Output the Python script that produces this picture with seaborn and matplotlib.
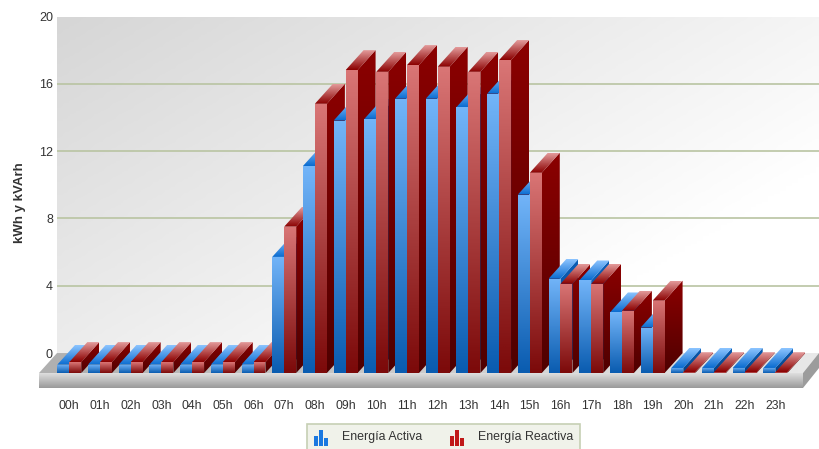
import numpy as np
import pandas as pd
import matplotlib
matplotlib.use("Agg")
import matplotlib.pyplot as plt
from matplotlib.colors import LinearSegmentedColormap
from matplotlib.legend_handler import HandlerBase
from matplotlib.patches import Polygon, Rectangle
import seaborn as sns

# valores
horas = ["00h", "01h", "02h", "03h", "04h", "05h", "06h", "07h", "08h", "09h", "10h", "11h",
         "12h", "13h", "14h", "15h", "16h", "17h", "18h", "19h", "20h", "21h", "22h", "23h"]
activa = [0.5, 0.5, 0.5, 0.5, 0.5, 0.5, 0.5, 6.9, 12.3, 15.0, 15.1, 16.3,
          16.3, 15.8, 16.6, 10.6, 5.6, 5.5, 3.6, 2.7, 0.3, 0.3, 0.3, 0.3]
reactiva = [0.65, 0.65, 0.65, 0.65, 0.65, 0.65, 0.65, 8.7, 16.0, 18.0, 17.9, 18.3,
            18.2, 17.9, 18.6, 11.9, 5.3, 5.3, 3.7, 4.3, 0.05, 0.05, 0.05, 0.05]
yticks = [0, 4, 8, 12, 16, 20]

# escala en pixeles de la imagen
W, H = 819, 449
PX_CAT = 30.7
PX_UNIT = 16.85
X0, Y0 = 69.3, 373
DX = 18 / PX_CAT
DY = 20 / PX_UNIT


def px_x(p):
    return (p - X0) / PX_CAT


def px_y(p):
    return (Y0 - p) / PX_UNIT


def cmap2(c0, c1):
    return LinearSegmentedColormap.from_list("g", [c0, c1])


def fill_grad(ax, pts, c_bottom, c_top, z, horizontal=False):
    # poligono relleno con degradado
    poly = Polygon(pts, closed=True, transform=ax.transData, fc="none", ec="none", zorder=z)
    ax.add_patch(poly)
    xs = [p[0] for p in pts]
    ys = [p[1] for p in pts]
    g = np.linspace(0, 1, 64)
    g = g.reshape(1, -1) if horizontal else g.reshape(-1, 1)
    im = ax.imshow(g, origin="lower", extent=(min(xs), max(xs), min(ys), max(ys)), aspect="auto",
                   cmap=cmap2(c_bottom, c_top), zorder=z, interpolation="bilinear")
    im.set_clip_path(poly)


class HandlerBarras(HandlerBase):
    # icono de tres barritas de la leyenda
    def create_artists(self, legend, orig_handle, xdescent, ydescent, width, height, fontsize, trans):
        out = []
        for k, h in enumerate([7.6, 11.5, 6.0]):
            out.append(Rectangle((k * 3.6, -4.6), 3.2, h, fc=orig_handle.get_facecolor(),
                                 ec="none", transform=trans))
        return out


sns.set_theme(style="white")
plt.rcParams["font.family"] = ["Liberation Sans", "DejaVu Sans"]

df = pd.DataFrame({
    "hora": horas * 2,
    "valor": activa + reactiva,
    "serie": ["Energía Activa"] * 24 + ["Energía Reactiva"] * 24,
})

fig = plt.figure(figsize=(W / 100, H / 100), dpi=100)
LEFT, RIGHT, TOP, BOTTOM = 39, 819, 16.5, 388
ax = fig.add_axes([LEFT / W, 1 - BOTTOM / H, (RIGHT - LEFT) / W, (BOTTOM - TOP) / H])

sns.barplot(data=df, x="hora", y="valor", hue="serie", order=horas, width=0.78, gap=0,
            palette=["#3f8fe0", "#a83030"], legend=False, ax=ax, saturation=1, zorder=10)

# pared con degradado diagonal
wx0, wx1 = px_x(57), px_x(819)
wy0, wy1 = px_y(353), px_y(16.5)
gx, gy = np.meshgrid(np.linspace(0, 1, 128), np.linspace(1, 0, 128))
ax.imshow(0.75 * gx + 0.55 * gy, origin="lower", extent=(wx0, wx1, wy0, wy1), aspect="auto",
          cmap=cmap2("#d6d6d6", "#ffffff"), vmin=0, vmax=1.0, zorder=0)

for v in yticks[1:-1]:
    ax.hlines(v + DY, wx0, wx1, color="#b9c4a2", lw=1.2, zorder=1)

# suelo
fill_grad(ax, [(wx0, wy0), (wx1, wy0), (px_x(803), 0), (px_x(39), 0)], "#b0b0b0", "#e8e8e8", 2, horizontal=True)
fill_grad(ax, [(px_x(39), 0), (px_x(803), 0), (px_x(803), px_y(388)), (px_x(39), px_y(388))], "#9a9a9a", "#dedede", 2)
ax.add_patch(Polygon([(px_x(803), 0), (px_x(819), DY), (px_x(819), px_y(368)), (px_x(803), px_y(388))],
                     fc="#9c9c9c", ec="none", zorder=2))

# caras laterales y superiores de cada barra
colores = [
    dict(front=("#0a5cb0", "#72b4f8"), side=("#063f80", "#0a5fb8"), top=("#0a6cd0", "#8cc4ff")),
    dict(front=("#7c0a0a", "#d97575"), side=("#4f0000", "#8b0000"), top=("#8b0000", "#e39a9a")),
]
for h, cont in enumerate(ax.containers):
    c = colores[h]
    for i, bar in enumerate(cont):
        x0 = bar.get_x()
        x1 = x0 + bar.get_width()
        v = bar.get_height()
        z = 10 + (i * 2 + h) * 4
        fill_grad(ax, [(x1, 0), (x1 + DX, DY), (x1 + DX, v + DY), (x1, v)], c["side"][0], c["side"][1], z)
        fill_grad(ax, [(x0, v), (x1, v), (x1 + DX, v + DY), (x0 + DX, v + DY)], c["top"][0], c["top"][1], z + 1)
        fill_grad(ax, [(x0, 0), (x1, 0), (x1, v), (x0, v)], c["front"][0], c["front"][1], z + 2)
        bar.set_visible(False)

ax.set_xlim(px_x(LEFT), px_x(RIGHT))
ax.set_ylim(px_y(BOTTOM), px_y(TOP))
sns.despine(ax=ax, left=True, bottom=True, right=True, top=True)

ax.set_xticks(range(24), horas)
ax.set_yticks([v + DY for v in yticks], [str(v) for v in yticks])
ax.tick_params(axis="x", length=0, pad=8.5, labelsize=8.8, labelcolor="#333333")
ax.tick_params(axis="y", length=0, pad=-10, labelsize=9, labelcolor="#333333")
ax.set_xlabel("")
ax.set_ylabel("")
fig.text(20 / W, 1 - 203 / H, "kWh y kVArh", rotation=90, ha="center", va="center",
         fontsize=9.5, fontweight="bold", color="#333333")

handles = [Rectangle((0, 0), 1, 1, fc="#1a78e0"), Rectangle((0, 0), 1, 1, fc="#c01818")]
leg = fig.legend(handles, ["Energía Activa", "Energía Reactiva"], ncol=2,
                 handler_map={Rectangle: HandlerBarras()},
                 loc="upper left", bbox_to_anchor=(307 / W, 1 - 424 / H), bbox_transform=fig.transFigure,
                 fontsize=8.9, frameon=True, fancybox=False, borderaxespad=0, borderpad=0.55,
                 handlelength=1.9, handletextpad=0.4, columnspacing=2.2, labelcolor="#333333")
leg.get_frame().set(facecolor="#f0f2ea", edgecolor="#c6d0b4", linewidth=1.2, alpha=1)

fig.savefig("out.png", dpi=100, facecolor="white")
